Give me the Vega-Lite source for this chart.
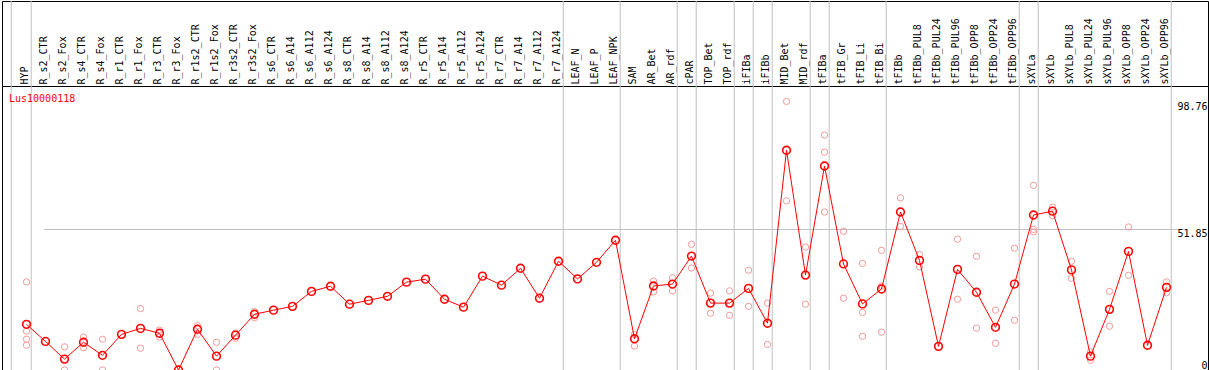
{
  "$schema": "https://vega.github.io/schema/vega-lite/v6.json",
  "autosize": {"type": "pad"},
  "padding": {"left": 1, "top": 0, "right": 1, "bottom": 0},
  "background": "white",
  "spacing": 0,
  "bounds": "flush",
  "config": {
    "view": {"stroke": "black", "strokeWidth": 1},
    "font": "DejaVu Sans Mono"
  },
  "datasets": {
    "means": [
      {"sample": "HYP", "value": 16.8, "gene": "Lus10000118"},
      {"sample": "R_s2_CTR", "value": 10.5, "gene": "Lus10000118"},
      {"sample": "R_s2_Fox", "value": 4.0, "gene": "Lus10000118"},
      {"sample": "R_s4_CTR", "value": 10.2, "gene": "Lus10000118"},
      {"sample": "R_s4_Fox", "value": 5.4, "gene": "Lus10000118"},
      {"sample": "R_r1_CTR", "value": 13.1, "gene": "Lus10000118"},
      {"sample": "R_r1_Fox", "value": 15.3, "gene": "Lus10000118"},
      {"sample": "R_r3_CTR", "value": 13.5, "gene": "Lus10000118"},
      {"sample": "R_r3_Fox", "value": 0.0, "gene": "Lus10000118"},
      {"sample": "R_r1s2_CTR", "value": 15.0, "gene": "Lus10000118"},
      {"sample": "R_r1s2_Fox", "value": 5.1, "gene": "Lus10000118"},
      {"sample": "R_r3s2_CTR", "value": 12.8, "gene": "Lus10000118"},
      {"sample": "R_r3s2_Fox", "value": 20.5, "gene": "Lus10000118"},
      {"sample": "R_s6_CTR", "value": 22.0, "gene": "Lus10000118"},
      {"sample": "R_s6_A14", "value": 23.4, "gene": "Lus10000118"},
      {"sample": "R_s6_A112", "value": 28.9, "gene": "Lus10000118"},
      {"sample": "R_s6_A124", "value": 30.8, "gene": "Lus10000118"},
      {"sample": "R_s8_CTR", "value": 24.2, "gene": "Lus10000118"},
      {"sample": "R_s8_A14", "value": 25.6, "gene": "Lus10000118"},
      {"sample": "R_s8_A112", "value": 27.1, "gene": "Lus10000118"},
      {"sample": "R_s8_A124", "value": 32.3, "gene": "Lus10000118"},
      {"sample": "R_r5_CTR", "value": 33.4, "gene": "Lus10000118"},
      {"sample": "R_r5_A14", "value": 26.0, "gene": "Lus10000118"},
      {"sample": "R_r5_A112", "value": 23.1, "gene": "Lus10000118"},
      {"sample": "R_r5_A124", "value": 34.5, "gene": "Lus10000118"},
      {"sample": "R_r7_CTR", "value": 31.2, "gene": "Lus10000118"},
      {"sample": "R_r7_A14", "value": 37.4, "gene": "Lus10000118"},
      {"sample": "R_r7_A112", "value": 26.4, "gene": "Lus10000118"},
      {"sample": "R_r7_A124", "value": 40.0, "gene": "Lus10000118"},
      {"sample": "LEAF_N", "value": 33.5, "gene": "Lus10000118"},
      {"sample": "LEAF_P", "value": 39.6, "gene": "Lus10000118"},
      {"sample": "LEAF_NPK", "value": 47.7, "gene": "Lus10000118"},
      {"sample": "SAM", "value": 11.5, "gene": "Lus10000118"},
      {"sample": "AR_Bet", "value": 30.9, "gene": "Lus10000118"},
      {"sample": "AR_rdf", "value": 31.6, "gene": "Lus10000118"},
      {"sample": "cPAR", "value": 41.9, "gene": "Lus10000118"},
      {"sample": "TOP_Bet", "value": 24.6, "gene": "Lus10000118"},
      {"sample": "TOP_rdf", "value": 24.6, "gene": "Lus10000118"},
      {"sample": "iFIBa", "value": 30.0, "gene": "Lus10000118"},
      {"sample": "iFIBb", "value": 17.2, "gene": "Lus10000118"},
      {"sample": "MID_Bet", "value": 80.8, "gene": "Lus10000118"},
      {"sample": "MID_rdf", "value": 34.9, "gene": "Lus10000118"},
      {"sample": "tFIBa", "value": 75.0, "gene": "Lus10000118"},
      {"sample": "tFIB_Gr", "value": 39.0, "gene": "Lus10000118"},
      {"sample": "tFIB_Li", "value": 24.3, "gene": "Lus10000118"},
      {"sample": "tFIB_Bi", "value": 29.8, "gene": "Lus10000118"},
      {"sample": "tFIBb", "value": 58.1, "gene": "Lus10000118"},
      {"sample": "tFIBb_PUL8", "value": 40.3, "gene": "Lus10000118"},
      {"sample": "tFIBb_PUL24", "value": 8.7, "gene": "Lus10000118"},
      {"sample": "tFIBb_PUL96", "value": 37.0, "gene": "Lus10000118"},
      {"sample": "tFIBb_OPP8", "value": 28.6, "gene": "Lus10000118"},
      {"sample": "tFIBb_OPP24", "value": 15.7, "gene": "Lus10000118"},
      {"sample": "tFIBb_OPP96", "value": 31.6, "gene": "Lus10000118"},
      {"sample": "sXYLa", "value": 57.0, "gene": "Lus10000118"},
      {"sample": "sXYLb", "value": 58.4, "gene": "Lus10000118"},
      {"sample": "sXYLb_PUL8", "value": 36.8, "gene": "Lus10000118"},
      {"sample": "sXYLb_PUL24", "value": 5.1, "gene": "Lus10000118"},
      {"sample": "sXYLb_PUL96", "value": 22.3, "gene": "Lus10000118"},
      {"sample": "sXYLb_OPP8", "value": 43.6, "gene": "Lus10000118"},
      {"sample": "sXYLb_OPP24", "value": 9.1, "gene": "Lus10000118"},
      {"sample": "sXYLb_OPP96", "value": 30.4, "gene": "Lus10000118"}
    ],
    "reps": [
      {"sample": "HYP", "value": 32.4}, {"sample": "HYP", "value": 14.3}, {"sample": "HYP", "value": 11.3}, {"sample": "HYP", "value": 9.1},
      {"sample": "R_s2_Fox", "value": 8.5}, {"sample": "R_s2_Fox", "value": 0},
      {"sample": "R_s4_CTR", "value": 12.1}, {"sample": "R_s4_CTR", "value": 8.2},
      {"sample": "R_s4_Fox", "value": 11.3}, {"sample": "R_s4_Fox", "value": 0},
      {"sample": "R_r1_Fox", "value": 22.6}, {"sample": "R_r1_Fox", "value": 8.0},
      {"sample": "R_r3_CTR", "value": 14.7}, {"sample": "R_r3_CTR", "value": 12.1},
      {"sample": "R_r1s2_CTR", "value": 16.3}, {"sample": "R_r1s2_CTR", "value": 13.1},
      {"sample": "R_r1s2_Fox", "value": 10.2}, {"sample": "R_r1s2_Fox", "value": 0},
      {"sample": "R_r3s2_CTR", "value": 11.7}, {"sample": "R_r3s2_CTR", "value": 13.6},
      {"sample": "R_r3s2_Fox", "value": 19.2}, {"sample": "R_r3s2_Fox", "value": 21.5},
      {"sample": "SAM", "value": 13.1}, {"sample": "SAM", "value": 8.8},
      {"sample": "AR_Bet", "value": 32.7}, {"sample": "AR_Bet", "value": 28.7},
      {"sample": "AR_rdf", "value": 33.9}, {"sample": "AR_rdf", "value": 29.1},
      {"sample": "cPAR", "value": 46.2}, {"sample": "cPAR", "value": 37.5},
      {"sample": "TOP_Bet", "value": 28.3}, {"sample": "TOP_Bet", "value": 20.9},
      {"sample": "TOP_rdf", "value": 29.1}, {"sample": "TOP_rdf", "value": 20.1},
      {"sample": "iFIBa", "value": 36.7}, {"sample": "iFIBa", "value": 23.4},
      {"sample": "iFIBb", "value": 24.6}, {"sample": "iFIBb", "value": 9.4},
      {"sample": "MID_Bet", "value": 98.76}, {"sample": "MID_Bet", "value": 62.2},
      {"sample": "MID_rdf", "value": 45.2}, {"sample": "MID_rdf", "value": 24.2},
      {"sample": "tFIBa", "value": 86.4}, {"sample": "tFIBa", "value": 80.1}, {"sample": "tFIBa", "value": 58.1},
      {"sample": "tFIB_Gr", "value": 51.0}, {"sample": "tFIB_Gr", "value": 26.4},
      {"sample": "tFIB_Li", "value": 39.2}, {"sample": "tFIB_Li", "value": 21.2}, {"sample": "tFIB_Li", "value": 12.4},
      {"sample": "tFIB_Bi", "value": 44.0}, {"sample": "tFIB_Bi", "value": 30.8}, {"sample": "tFIB_Bi", "value": 13.9},
      {"sample": "tFIBb", "value": 63.3}, {"sample": "tFIBb", "value": 52.8},
      {"sample": "tFIBb_PUL8", "value": 42.5}, {"sample": "tFIBb_PUL8", "value": 37.9},
      {"sample": "tFIBb_PUL96", "value": 48.1}, {"sample": "tFIBb_PUL96", "value": 26.0},
      {"sample": "tFIBb_OPP8", "value": 41.8}, {"sample": "tFIBb_OPP8", "value": 15.4},
      {"sample": "tFIBb_OPP24", "value": 22.0}, {"sample": "tFIBb_OPP24", "value": 9.8},
      {"sample": "tFIBb_OPP96", "value": 44.8}, {"sample": "tFIBb_OPP96", "value": 18.3},
      {"sample": "sXYLa", "value": 67.9}, {"sample": "sXYLa", "value": 51.7}, {"sample": "sXYLa", "value": 50.8},
      {"sample": "sXYLb", "value": 59.9}, {"sample": "sXYLb", "value": 56.8},
      {"sample": "sXYLb_PUL8", "value": 40.0}, {"sample": "sXYLb_PUL8", "value": 33.7},
      {"sample": "sXYLb_PUL24", "value": 6.7}, {"sample": "sXYLb_PUL24", "value": 3.6},
      {"sample": "sXYLb_PUL96", "value": 28.9}, {"sample": "sXYLb_PUL96", "value": 16.1},
      {"sample": "sXYLb_OPP8", "value": 52.6}, {"sample": "sXYLb_OPP8", "value": 34.8},
      {"sample": "sXYLb_OPP96", "value": 32.4}, {"sample": "sXYLb_OPP96", "value": 28.4}
    ],
    "groupEnds": [
      {"after": "HYP"}, {"after": "R_r7_A124"}, {"after": "LEAF_NPK"}, {"after": "AR_rdf"},
      {"after": "cPAR"}, {"after": "TOP_rdf"}, {"after": "iFIBa"}, {"after": "iFIBb"},
      {"after": "MID_rdf"}, {"after": "tFIBa"}, {"after": "tFIB_Bi"}, {"after": "tFIBb_OPP96"},
      {"after": "sXYLa"}, {"after": "sXYLb_OPP96"}
    ],
    "groupStart": [{"before": "HYP"}]
  },
  "vconcat": [
    {
      "width": 1206,
      "height": 85,
      "layer": [
        {
          "data": {"name": "groupEnds"},
          "mark": {"type": "rule", "color": "#c0c0c0", "strokeWidth": 1, "xOffset": 4.7},
          "encoding": {
            "x": {
              "field": "after", "type": "nominal",
              "scale": {"type": "point", "padding": 0, "range": [24.5, 1164.5], "round": false,
                "domain": ["HYP","R_s2_CTR","R_s2_Fox","R_s4_CTR","R_s4_Fox","R_r1_CTR","R_r1_Fox","R_r3_CTR","R_r3_Fox","R_r1s2_CTR","R_r1s2_Fox","R_r3s2_CTR","R_r3s2_Fox","R_s6_CTR","R_s6_A14","R_s6_A112","R_s6_A124","R_s8_CTR","R_s8_A14","R_s8_A112","R_s8_A124","R_r5_CTR","R_r5_A14","R_r5_A112","R_r5_A124","R_r7_CTR","R_r7_A14","R_r7_A112","R_r7_A124","LEAF_N","LEAF_P","LEAF_NPK","SAM","AR_Bet","AR_rdf","cPAR","TOP_Bet","TOP_rdf","iFIBa","iFIBb","MID_Bet","MID_rdf","tFIBa","tFIB_Gr","tFIB_Li","tFIB_Bi","tFIBb","tFIBb_PUL8","tFIBb_PUL24","tFIBb_PUL96","tFIBb_OPP8","tFIBb_OPP24","tFIBb_OPP96","sXYLa","sXYLb","sXYLb_PUL8","sXYLb_PUL24","sXYLb_PUL96","sXYLb_OPP8","sXYLb_OPP24","sXYLb_OPP96"]},
              "axis": {
                "orient": "bottom", "title": null, "domain": false, "ticks": false, "tickSize": 0,
                "labelAngle": -90, "labelAlign": "left", "labelBaseline": "middle",
                "labelPadding": -2, "labelOffset": -2,
                "labelFont": "DejaVu Sans Mono", "labelFontSize": 10, "labelColor": "black",
                "labelOverlap": false, "labelBound": false, "labelFlush": false, "labelLimit": 0,
                "grid": false
              }
            }
          }
        },
        {
          "data": {"name": "groupStart"},
          "mark": {"type": "rule", "color": "#c0c0c0", "strokeWidth": 1, "xOffset": -15.3},
          "encoding": {"x": {"field": "before", "type": "nominal"}}
        }
      ]
    },
    {
      "width": 1206,
      "height": 284,
      "encoding": {
        "x": {
          "field": "sample", "type": "nominal",
          "scale": {"type": "point", "padding": 0, "range": [24.5, 1164.5], "round": false,
            "domain": ["HYP","R_s2_CTR","R_s2_Fox","R_s4_CTR","R_s4_Fox","R_r1_CTR","R_r1_Fox","R_r3_CTR","R_r3_Fox","R_r1s2_CTR","R_r1s2_Fox","R_r3s2_CTR","R_r3s2_Fox","R_s6_CTR","R_s6_A14","R_s6_A112","R_s6_A124","R_s8_CTR","R_s8_A14","R_s8_A112","R_s8_A124","R_r5_CTR","R_r5_A14","R_r5_A112","R_r5_A124","R_r7_CTR","R_r7_A14","R_r7_A112","R_r7_A124","LEAF_N","LEAF_P","LEAF_NPK","SAM","AR_Bet","AR_rdf","cPAR","TOP_Bet","TOP_rdf","iFIBa","iFIBb","MID_Bet","MID_rdf","tFIBa","tFIB_Gr","tFIB_Li","tFIB_Bi","tFIBb","tFIBb_PUL8","tFIBb_PUL24","tFIBb_PUL96","tFIBb_OPP8","tFIBb_OPP24","tFIBb_OPP96","sXYLa","sXYLb","sXYLb_PUL8","sXYLb_PUL24","sXYLb_PUL96","sXYLb_OPP8","sXYLb_OPP24","sXYLb_OPP96"]},
          "axis": null
        }
      },
      "layer": [
        {
          "data": {"name": "groupEnds"},
          "mark": {"type": "rule", "color": "#c0c0c0", "strokeWidth": 1, "xOffset": 4.7},
          "encoding": {"x": {"field": "after", "type": "nominal"}}
        },
        {
          "data": {"name": "groupStart"},
          "mark": {"type": "rule", "color": "#c0c0c0", "strokeWidth": 1, "xOffset": -15.3},
          "encoding": {"x": {"field": "before", "type": "nominal"}}
        },
        {
          "data": {"name": "reps"},
          "mark": {"type": "point", "shape": "circle", "filled": false, "stroke": "#f29a9a", "strokeWidth": 1, "size": 40, "opacity": 1, "clip": true},
          "encoding": {
            "y": {
              "field": "value", "type": "quantitative",
              "scale": {"domain": [0, 104.43], "nice": false, "zero": true},
              "axis": {
                "orient": "right", "title": null, "values": [0, 51.85, 98.76],
                "labelExpr": "'' + datum.value",
                "domain": false, "ticks": false, "tickSize": 0,
                "labelAlign": "right", "labelPadding": -1,
                "labelBaseline": {"condition": {"test": "datum.value === 0", "value": "bottom"}, "value": "top"},
                "labelFont": "DejaVu Sans Mono", "labelFontSize": 10, "labelColor": "black",
                "labelFlush": false, "labelBound": false, "labelOverlap": false,
                "grid": true, "gridWidth": 1,
                "gridColor": {"condition": {"test": "datum.value === 51.85", "value": "#c0c0c0"}, "value": "transparent"}
              }
            }
          }
        },
        {
          "data": {"name": "means"},
          "mark": {"type": "line", "strokeWidth": 1, "clip": true},
          "encoding": {
            "y": {"field": "value", "type": "quantitative"},
            "color": {
              "field": "gene", "type": "nominal",
              "scale": {"domain": ["Lus10000118"], "range": ["#ff0000"]},
              "legend": {
                "orient": "top-left", "title": null, "offset": 8, "padding": 0,
                "symbolSize": 0, "symbolOpacity": 0, "symbolStrokeWidth": 0, "labelOffset": -11,
                "labelFont": "DejaVu Sans Mono", "labelFontSize": 10, "labelColor": "#ff0000"
              }
            }
          }
        },
        {
          "data": {"name": "means"},
          "mark": {"type": "point", "shape": "circle", "filled": false, "strokeWidth": 1.6, "size": 60, "opacity": 1, "clip": true},
          "encoding": {
            "y": {"field": "value", "type": "quantitative"},
            "color": {"field": "gene", "type": "nominal"}
          }
        }
      ]
    }
  ],
  "resolve": {
    "scale": {"x": "independent", "y": "independent", "color": "independent"},
    "axis": {"x": "independent", "y": "independent"},
    "legend": {"color": "independent"}
  }
}
